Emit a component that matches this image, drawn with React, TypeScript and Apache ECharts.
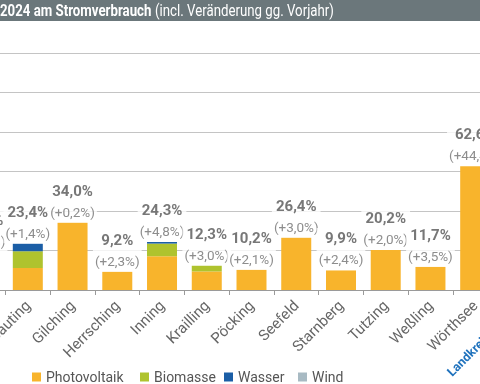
import React, { useEffect, useRef } from "react";
import * as echarts from "echarts";

const categories = [
  "Feldafing", "Gauting", "Gilching", "Herrsching", "Inning", "Krailling",
  "Pöcking", "Seefeld", "Starnberg", "Tutzing", "Weßling", "Wörthsee", "Landkreis gesamt",
];
const photovoltaik = [19.0, 11.1, 34.0, 9.2, 17.1, 9.4, 10.2, 26.4, 9.9, 20.2, 11.7, 62.6, 20.0];
const biomasse = [0, 8.5, 0, 0, 6.4, 2.9, 0, 0, 0, 0, 0, 0, 2.5];
const wasser = [0, 3.8, 0, 0, 0.8, 0, 0, 0, 0, 0, 0, 0, 0.5];
const wind = [0, 0, 0, 0, 0, 0, 0, 0, 0, 0, 0, 0, 0];
const totals = [19.0, 23.4, 34.0, 9.2, 24.3, 12.3, 10.2, 26.4, 9.9, 20.2, 11.7, 62.6, 23.0];
const changes = ["+2,0", "+1,4", "+0,2", "+2,3", "+4,8", "+3,0", "+2,1", "+3,0", "+2,4", "+2,0", "+3,5", "+44,4", "+3,1"];
const yTicks = [0, 20, 40, 60, 80, 100, 120];
const legendNames = ["Photovoltaik", "Biomasse", "Wasser", "Wind"];
const legendLeft = [32, 140, 224, 298];

const FONT = "Roboto, 'Liberation Sans', sans-serif";
// chart container is wider than the viewport: it starts OFF px left of the page
const OFF = 100;
const CW = 700;

export default function App() {
  const ref = useRef<HTMLDivElement>(null);
  useEffect(() => {
    if (!ref.current) return;
    const chart = echarts.init(ref.current, null, { renderer: "svg" });
    const fmt = (v: number) => v.toFixed(1).replace(".", ",") + "%";
    chart.setOption({
      animation: false,
      textStyle: { fontFamily: FONT },
      graphic: [
        { type: "rect", x: OFF, y: 0, z: -1, shape: { width: 480, height: 21 }, style: { fill: "#6b777b" } },
        {
          type: "text", x: OFF, y: 2, scaleX: 0.78,
          style: { text: "2024 am Stromverbrauch", fill: "#ffffff", font: `bold 17px ${FONT}` },
        },
        {
          type: "text", x: OFF + 155, y: 2, scaleX: 0.78,
          style: { text: "(incl. Veränderung gg. Vorjahr)", fill: "#ffffff", font: `17px ${FONT}` },
        },
      ],
      legend: legendNames.map((n, i) => ({
        left: OFF + legendLeft[i],
        top: 370,
        padding: 0,
        itemWidth: 9,
        itemHeight: 9,
        icon: "rect",
        data: [n],
        textStyle: { fontFamily: FONT, fontSize: 14, color: "#555555" },
      })),
      grid: {
        left: OFF - 39.3,
        right: CW - (OFF + 542.3),
        top: 53,
        bottom: 94,
        containLabel: false,
        outerBoundsMode: "none",
      },
      xAxis: {
        type: "category",
        data: categories.map((c, i) =>
          i === categories.length - 1
            ? { value: c, textStyle: { color: "#1f72bd", fontWeight: "bold", fontSize: 12.5, padding: [48, 0, 0, 0] } }
            : c
        ),
        axisLine: { lineStyle: { color: "#9a9a9a", width: 1 } },
        axisTick: { show: true, length: 5, lineStyle: { color: "#9a9a9a" } },
        axisLabel: {
          rotate: 45,
          interval: 0,
          margin: 13,
          fontFamily: FONT,
          fontSize: 15,
          color: "#666666",
        },
      },
      yAxis: {
        type: "value",
        min: yTicks[0],
        max: yTicks[yTicks.length - 1],
        interval: 20,
        axisLabel: { show: false },
        axisLine: { show: false },
        axisTick: { show: false },
        splitLine: { lineStyle: { color: "#c4c4c4", width: 1 } },
      },
      series: [
        { name: "Photovoltaik", type: "bar", stack: "s", barWidth: 30, data: photovoltaik, itemStyle: { color: "#f8b42c" } },
        { name: "Biomasse", type: "bar", stack: "s", barWidth: 30, data: biomasse, itemStyle: { color: "#afc32e" } },
        { name: "Wasser", type: "bar", stack: "s", barWidth: 30, data: wasser, itemStyle: { color: "#1b5ea6" } },
        { name: "Wind", type: "bar", stack: "s", barWidth: 30, data: wind, itemStyle: { color: "#a8bac3" } },
        {
          name: "labels",
          type: "scatter",
          symbolSize: 1,
          itemStyle: { color: "rgba(0,0,0,0)" },
          z: 10,
          data: totals,
          label: {
            show: true,
            position: "top",
            distance: 0,
            backgroundColor: "#ffffff",
            padding: [0, 2, 0, 2],
            formatter: (p: any) => `{v|${fmt(totals[p.dataIndex])}}\n{d|(${changes[p.dataIndex]}%)}`,
            rich: {
              v: { fontFamily: FONT, fontSize: 15, fontWeight: "bold", color: "#555555", lineHeight: 21, align: "center" },
              d: { fontFamily: FONT, fontSize: 13.5, color: "#707070", lineHeight: 21, align: "center" },
            },
          },
        },
      ],
    });
    return () => chart.dispose();
  }, []);
  return <div ref={ref} style={{ position: "fixed", left: -OFF, top: 0, width: CW, height: 384 }} />;
}
